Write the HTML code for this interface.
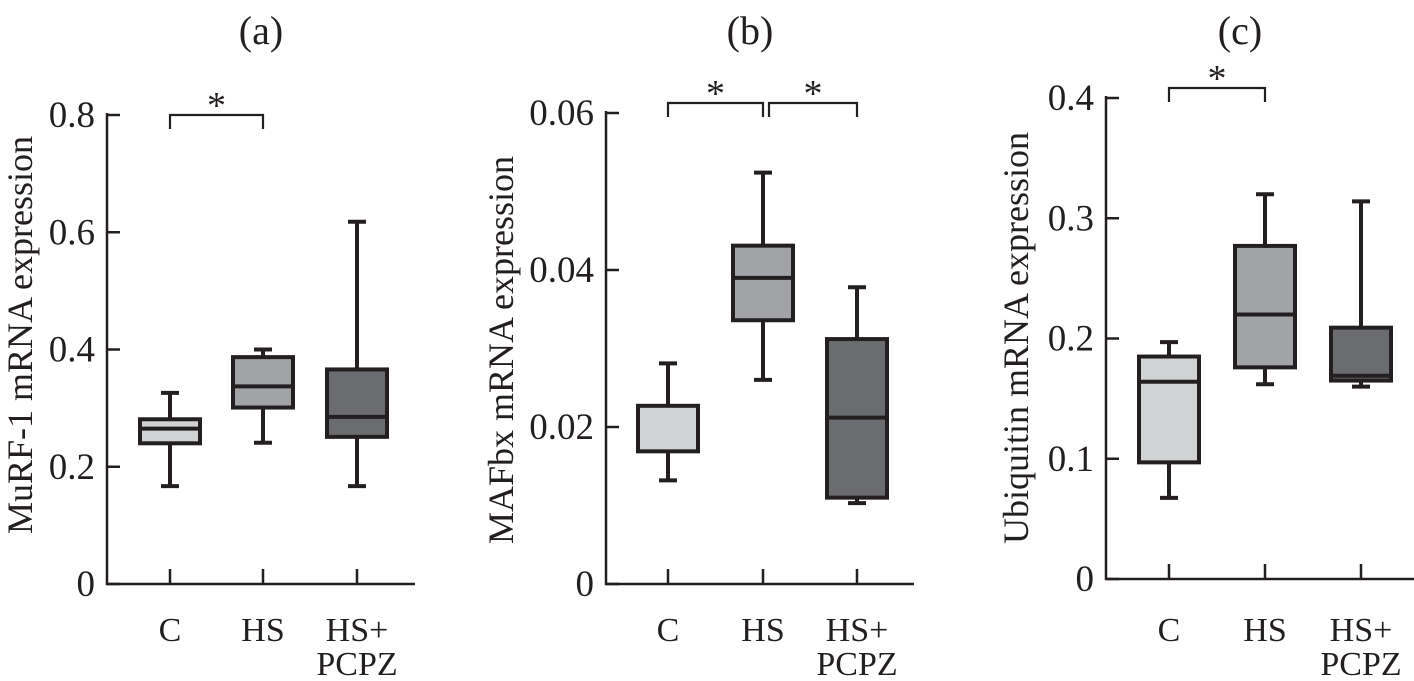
<!DOCTYPE html>
<html><head><meta charset="utf-8"><style>
html,body{margin:0;padding:0;background:#fff}
svg{display:block}
text{font-family:"Liberation Serif",serif;fill:#231f20}
</style></head><body>
<svg id="fig" width="1414" height="681" viewBox="0 0 1414 681" xmlns="http://www.w3.org/2000/svg"></svg>
<script>
const categories = ["C","HS","HS+PCPZ"];
const fills = ["#d1d2d4","#a1a3a6","#6b6c6f"];
// panel a: MuRF-1 [low, q1, median, q3, high]
const murfValues = [[0.167,0.240,0.265,0.281,0.326],[0.241,0.301,0.337,0.387,0.400],[0.167,0.251,0.285,0.366,0.618]];
const murfTicks = [0,0.2,0.4,0.6,0.8];
const murfTickLabels = ["0","0.2","0.4","0.6","0.8"];
// panel b: MAFbx
const mafValues = [[0.0132,0.0169,null,0.0227,0.0281],[0.0260,0.0336,0.0390,0.0431,0.0524],[0.0103,0.0110,0.0212,0.0312,0.0378]];
const mafTicks = [0,0.02,0.04,0.06];
const mafTickLabels = ["0","0.02","0.04","0.06"];
// panel c: Ubiquitin
const ubiValues = [[0.0675,0.097,0.164,0.185,0.197],[0.162,0.176,0.220,0.277,0.320],[0.160,0.165,0.169,0.209,0.314]];
const ubiTicks = [0,0.1,0.2,0.3,0.4];
const ubiTickLabels = ["0","0.1","0.2","0.3","0.4"];

const NS="http://www.w3.org/2000/svg";
const svg=document.getElementById('fig');
function mk(tag,attrs,parent){const e=document.createElementNS(NS,tag);for(const k in attrs)e.setAttribute(k,attrs[k]);(parent||svg).appendChild(e);return e;}
const INK="#231f20";

const panels=[
 {id:'a',title:'(a)',tx:261,ax:107,xEnd:415,y0:584,yTop:115,max:0.8,cx:[170,263,357],vals:murfValues,ticks:murfTicks,labels:murfTickLabels,ylab:'MuRF-1 mRNA expression',ylx:32,yly:335,brackets:[[0,1]],by:115,bd:14,sy:98},
 {id:'b',title:'(b)',tx:750,ax:606,xEnd:914,y0:584,yTop:113,max:0.06,cx:[668,763,857],vals:mafValues,ticks:mafTicks,labels:mafTickLabels,ylab:'MAFbx mRNA expression',ylx:513,yly:350,brackets:[[0,1],[1,2]],by:103,bd:14,sy:86},
 {id:'c',title:'(c)',tx:1240,ax:1106,xEnd:1414,y0:579,yTop:98,max:0.4,cx:[1169,1265,1361],vals:ubiValues,ticks:ubiTicks,labels:ubiTickLabels,ylab:'Ubiquitin mRNA expression',ylx:1028,yly:338,brackets:[[0,1]],by:88,bd:14,sy:71}
];

panels.forEach(p=>{
 const g=mk('g',{});
 
 
 const y=v=>p.y0-(v/p.max)*(p.y0-p.yTop);
 const t=mk('text',{x:p.tx,y:44,'font-size':40,'text-anchor':'middle'},g);t.textContent=p.title;
 
 const ya=mk('line',{x1:p.ax,y1:p.yTop-2,x2:p.ax,y2:p.y0+1,stroke:INK,'stroke-width':2.5},g);
 
 const xa=mk('line',{x1:p.ax-1,y1:p.y0,x2:p.xEnd,y2:p.y0,stroke:INK,'stroke-width':2.5},g);
 
 p.ticks.forEach((v,i)=>{
  mk('line',{x1:p.ax,y1:y(v),x2:p.ax+13,y2:y(v),stroke:INK,'stroke-width':2.5},g);
  const tl=mk('text',{x:p.ax-12,y:y(v)+12,'font-size':37,'text-anchor':'end'},g);
  tl.textContent=p.labels[i];
  
 });
 const yl=mk('text',{x:0,y:0,'font-size':36,'text-anchor':'middle',transform:`translate(${p.ylx},${p.yly}) rotate(-90)`},g);
 yl.textContent=p.ylab;
 
 categories.forEach((c,i)=>{
  const x=p.cx[i];
  mk('line',{x1:x,y1:p.y0-15,x2:x,y2:p.y0,stroke:INK,'stroke-width':2.5},g);
  if(c==='HS+PCPZ'){
   const a=mk('text',{x:x,y:641,'font-size':34,'text-anchor':'middle'},g);a.textContent='HS+';
   
   const b=mk('text',{x:x,y:675,'font-size':34,'text-anchor':'middle'},g);b.textContent='PCPZ';
   
  } else {
   const a=mk('text',{x:x,y:641,'font-size':34,'text-anchor':'middle'},g);a.textContent=c;
   
  }
  const v=p.vals[i];
  const bg=mk('g',{},g);
  
  
  const hw=30,cw=9;
  mk('line',{x1:x,y1:y(v[4]),x2:x,y2:y(v[3]),stroke:INK,'stroke-width':4},bg);
  mk('line',{x1:x-cw,y1:y(v[4]),x2:x+cw,y2:y(v[4]),stroke:INK,'stroke-width':4},bg);
  mk('line',{x1:x,y1:y(v[1]),x2:x,y2:y(v[0]),stroke:INK,'stroke-width':4},bg);
  mk('line',{x1:x-cw,y1:y(v[0]),x2:x+cw,y2:y(v[0]),stroke:INK,'stroke-width':4},bg);
  mk('rect',{x:x-hw,y:y(v[3]),width:hw*2,height:y(v[1])-y(v[3]),fill:fills[i],stroke:INK,'stroke-width':4},bg);
  if(v[2]!==null) mk('line',{x1:x-hw,y1:y(v[2]),x2:x+hw,y2:y(v[2]),stroke:INK,'stroke-width':4},bg);
 });
 p.brackets.forEach(([a,b])=>{
  const x1=p.cx[a]+(a>0?6:0), x2=p.cx[b];
  const br=mk('path',{d:`M${x1},${p.by+p.bd} L${x1},${p.by} L${x2},${p.by} L${x2},${p.by+p.bd}`,fill:'none',stroke:INK,'stroke-width':2.2},g);
  
  const s=mk('text',{x:(x1+x2)/2,y:p.sy+20,'font-size':38,'text-anchor':'middle'},g);s.textContent='*';
  
 });
});
</script>
</body></html>
